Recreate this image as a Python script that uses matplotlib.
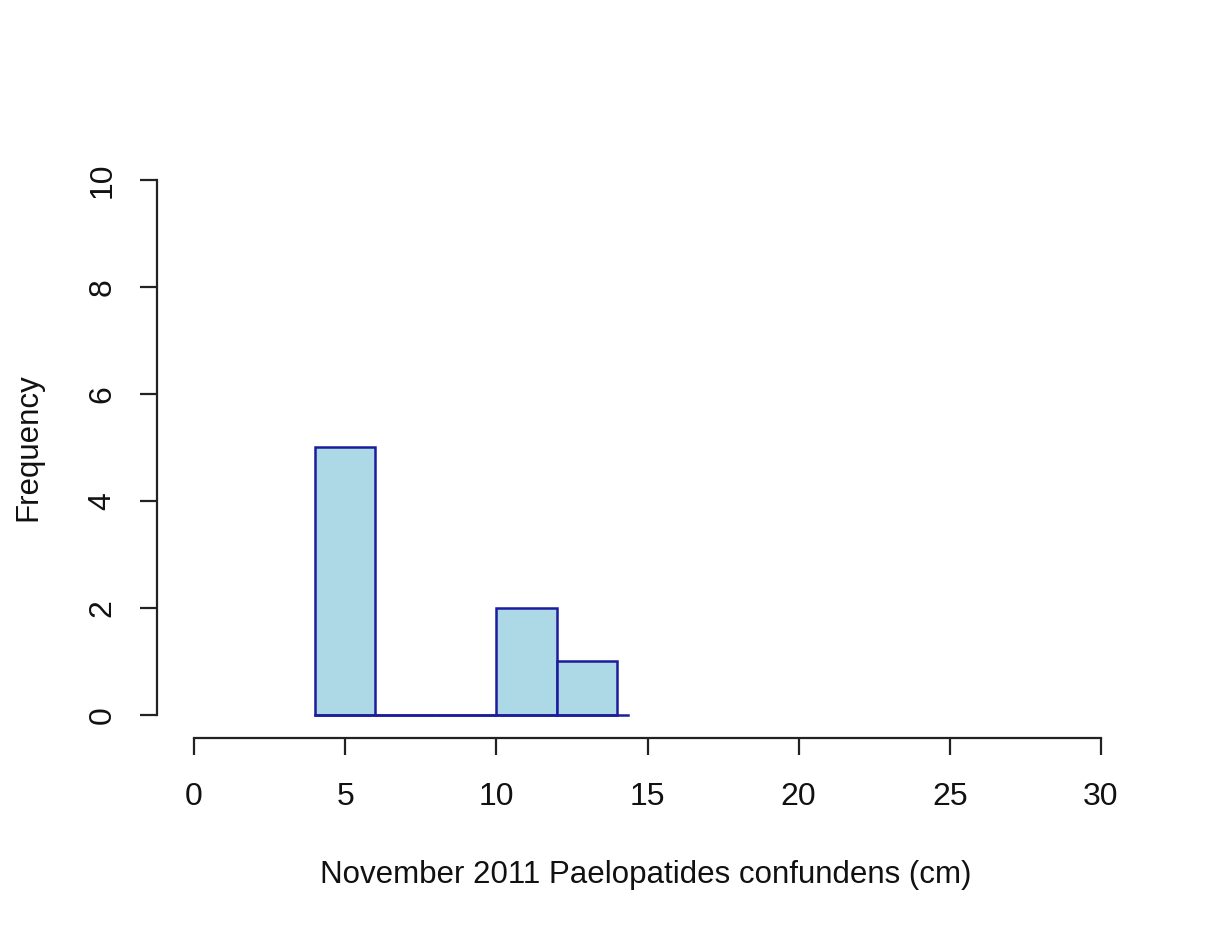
import numpy as np
import matplotlib.pyplot as plt

plt.rcParams['font.family'] = ['Liberation Sans', 'DejaVu Sans']

# histogram of lengths, 2 cm bins
bin_edges = [4, 6, 8, 10, 12, 14]
counts = [5, 0, 0, 2, 1]
xticks = [0, 5, 10, 15, 20, 25, 30]
yticks = [0, 2, 4, 6, 8, 10]

W, H = 1220, 934
fig = plt.figure(figsize=(W/100, H/100), dpi=100)
ax = fig.add_axes([157/W, (H-738)/H, (1101-157)/W, (738-180)/H])

widths = np.diff(bin_edges)
ax.bar(bin_edges[:-1], counts, width=widths, align='edge',
       color='#ADD8E6', edgecolor='#1c1c9c', linewidth=1.8, zorder=2)
# baseline under the bars, like R's hist
ax.plot([bin_edges[0], bin_edges[-1] + 0.35], [0, 0], color='#1c1c9c', lw=1.8, zorder=3)

ax.set_xlim(-1.224, 30)
ax.set_ylim(-0.43, 10)
for s in ['top', 'right']:
    ax.spines[s].set_visible(False)
ax.spines['left'].set_bounds(0, 10)
ax.spines['bottom'].set_bounds(0, 30)
for s in ['left', 'bottom']:
    ax.spines[s].set_linewidth(1.6)
    ax.spines[s].set_color('#222222')

ax.set_xticks(xticks)
ax.set_yticks(yticks)
ax.set_yticklabels([str(v) for v in yticks], rotation=90, va='center')
ax.tick_params(axis='both', length=12.5, width=1.6, color='#222222',
               labelsize=23, colors='#111111')
ax.tick_params(axis='x', pad=19)
ax.tick_params(axis='y', pad=16)

fig.text(646/W, 1 - 875/H, 'November 2011 Paelopatides confundens (cm)',
         fontsize=22.5, color='#111111', ha='center', va='center')
fig.text(28/W, 1 - 447/H, 'Frequency', fontsize=22.5, color='#111111',
         rotation=90, ha='center', va='center')

fig.savefig('out.png', dpi=100)
